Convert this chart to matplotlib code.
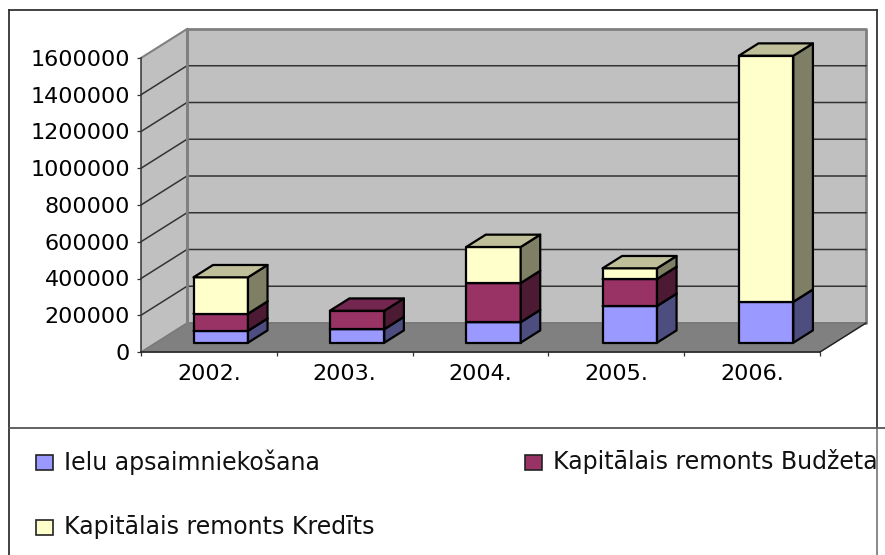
"""Stacked 3D style column chart drawn on a flat matplotlib axes."""

import matplotlib
matplotlib.use('Agg')
import matplotlib.pyplot as plt
from matplotlib.lines import Line2D
from matplotlib.patches import Polygon, Rectangle

W, H = 885, 555

years = ['2002.', '2003.', '2004.', '2005.', '2006.']
ielu = [65000, 74000, 112000, 200000, 223000]
budzets = [93000, 100000, 213000, 147000, 0]
kredits = [198000, 0, 196000, 58000, 1339000]
series_names = ['Ielu apsaimniekošana', 'Kapitālais remonts Budžeta', 'Kapitālais remonts Kredīts']
y_ticks = [0, 200000, 400000, 600000, 800000, 1000000, 1200000, 1400000, 1600000]

colors = ['#9999FF', '#993366', '#FFFFCC']
tops = ['#7373BF', '#732650', '#BFBF99']
sides = ['#4D4D80', '#4D1A33', '#7F7F66']

# depth of the box, in data units per unit of depth
DX = 46 / 135.8
DY = 29 / 294 * 1600000
BAR_W = 0.401
BAR_D0, BAR_D1 = 0.32, 0.745
BAR_STEP = 136.35 / 135.8
BAR_SHIFT = -0.005

plt.rcParams['font.family'] = ['DejaVu Sans']
LABEL_SIZE = 16
LEGEND_SIZE = 17


def pr(x, v, d):
    """Project a category position, value and depth onto the flat axes."""
    return (x + d * DX, v + d * DY)


def face(ax, pts, color, edge='black', lw=1.6, z=3):
    ax.add_patch(Polygon(pts, closed=True, facecolor=color, edgecolor=edge, linewidth=lw,
                         joinstyle='round', clip_on=False, zorder=z))


def fig_line(fig, x0, y0, x1, y1, color, lw=1.3):
    fig.add_artist(Line2D([x0 / W, x1 / W], [1 - y0 / H, 1 - y1 / H], color=color, linewidth=lw))


fig = plt.figure(figsize=(W / 100, H / 100), dpi=100)
ax = fig.add_axes([141 / W, 1 - 352 / H, (820 - 141) / W, (352 - 58) / H])
ax.set_xlim(0, 5)
ax.set_ylim(0, 1600000)
ax.patch.set_alpha(0)

# walls and floor
top_v = y_ticks[-1]
face(ax, [pr(0, 0, 0), pr(0, 0, 1), pr(0, top_v, 1), pr(0, top_v, 0)], '#C0C0C0', 'none', 0, 1)
face(ax, [pr(0, 0, 1), pr(5, 0, 1), pr(5, top_v, 1), pr(0, top_v, 1)], '#C0C0C0', '#808080', 2, 1)
face(ax, [pr(0, 0, 0), pr(5, 0, 0), pr(5, 0, 1), pr(0, 0, 1)], '#808080', '#777777', 1, 1.5)

for v in y_ticks[1:-1]:
    a, b, c = pr(0, v, 0), pr(0, v, 1), pr(5, v, 1)
    ax.plot([a[0], b[0], c[0]], [a[1], b[1], c[1]], color='#333333', linewidth=1.1, zorder=2,
            clip_on=False)
a, b = pr(0, top_v, 0), pr(0, top_v, 1)
ax.plot([a[0], b[0]], [a[1], b[1]], color='#808080', linewidth=1.5, zorder=2, clip_on=False)
a, b = pr(0, 0, 1), pr(0, top_v, 1)
ax.plot([a[0], b[0]], [a[1], b[1]], color='#808080', linewidth=2, zorder=2, clip_on=False)
a, b = pr(5, 0, 0), pr(5, 0, 1)
ax.plot([a[0], b[0]], [a[1], b[1]], color='#222222', linewidth=1, zorder=2, clip_on=False)

# bars
for i in range(len(years)):
    x0 = 4.5 + (i - 4) * BAR_STEP - BAR_W / 2 + BAR_SHIFT
    x1 = x0 + BAR_W
    base = 0
    for k, values in enumerate([ielu, budzets, kredits]):
        v = values[i]
        if v == 0:
            continue
        t = base + v
        face(ax, [pr(x0, base, BAR_D0), pr(x1, base, BAR_D0), pr(x1, t, BAR_D0), pr(x0, t, BAR_D0)], colors[k])
        face(ax, [pr(x1, base, BAR_D0), pr(x1, base, BAR_D1), pr(x1, t, BAR_D1), pr(x1, t, BAR_D0)], sides[k])
        face(ax, [pr(x0, t, BAR_D0), pr(x1, t, BAR_D0), pr(x1, t, BAR_D1), pr(x0, t, BAR_D1)], tops[k])
        base = t

# axes
for name in ['top', 'right']:
    ax.spines[name].set_visible(False)
ax.spines['left'].set_color('#333333')
ax.spines['bottom'].set_color('#222222')
ax.spines['left'].set_linewidth(1.1)
ax.spines['bottom'].set_linewidth(1.1)
ax.set_yticks(y_ticks)
ax.set_yticklabels([str(v) for v in y_ticks])
ax.set_xticks([i + 0.5 for i in range(len(years))])
ax.set_xticklabels(years)
ax.set_xticks(range(len(years) + 1), minor=True)
ax.tick_params(axis='y', length=3, width=0.9, pad=5, labelsize=LABEL_SIZE, color='#333333')
ax.tick_params(axis='x', which='major', length=0, pad=9, labelsize=LABEL_SIZE)
ax.tick_params(axis='x', which='minor', length=3, width=0.9, color='#333333')

# frame
fig_line(fig, 9, 10, 877, 10, '#333333')
fig_line(fig, 9, 10, 9, 555, '#333333')
fig_line(fig, 877, 10, 877, 428, '#333333')
fig_line(fig, 877, 428, 877, 555, '#808080')
fig_line(fig, 9, 428, 885, 428, '#555555')

# legend
legend_pos = [(36, 462), (525, 462), (36, 527)]
for name, color, (lx, ly) in zip(series_names, colors, legend_pos):
    fig.add_artist(Rectangle((lx / W, 1 - (ly + 8) / H), 17 / W, 15 / H, transform=fig.transFigure,
                             facecolor=color, edgecolor='#222222', linewidth=1.2))
    fig.text((lx + 28) / W, 1 - ly / H, name, fontsize=LEGEND_SIZE, va='center', ha='left', color='#111111')

fig.savefig('out.png', dpi=100)
